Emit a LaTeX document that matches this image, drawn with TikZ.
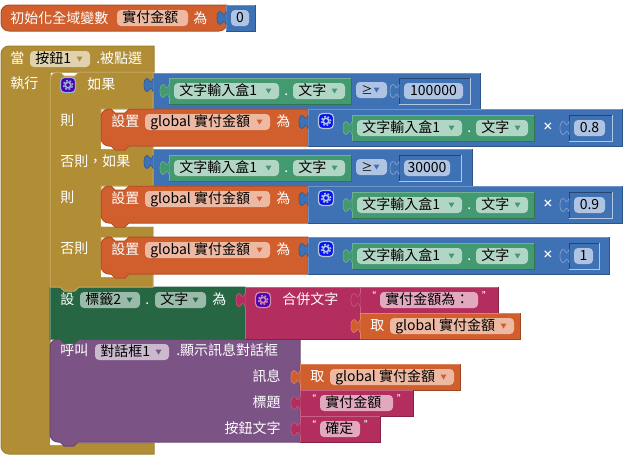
\documentclass[tikz,border=0pt]{standalone}
\usepackage{fontspec}
\setmainfont{Noto Sans CJK TC}
\definecolor{cOr}{HTML}{D05F2D}
\definecolor{cBl}{HTML}{3F71B5}
\definecolor{cGo}{HTML}{B18E35}
\definecolor{cGr}{HTML}{439970}
\definecolor{cDg}{HTML}{266643}
\definecolor{cPk}{HTML}{B32D5E}
\definecolor{cPu}{HTML}{7C5385}
\definecolor{fOr}{HTML}{EDB9A3}
\definecolor{fBl}{HTML}{AFC4E2}
\definecolor{fGr}{HTML}{B2D6C5}
\definecolor{fDg}{HTML}{9ABBA9}
\definecolor{fPk}{HTML}{E2A9BE}
\definecolor{fPu}{HTML}{CBBACE}
\definecolor{fGo}{HTML}{E0D2AE}
\newcount\nodeno
\tikzset{
  autoname/.code={\global\advance\nodeno by 1\relax\tikzset{name=n\the\nodeno}},
  txt/.style={autoname,inner sep=0pt,font=\fontsize{10.5pt}{12pt}\selectfont,text height=8.5pt,text depth=1.5pt},
  wlab/.style={txt,text=white},
  hairline/.style={line width=0.75pt},
}
% label: x y text
\newcommand\lab[3]{\node[wlab,anchor=west] at (#1,#2) {#3};}
\newcommand\labr[3]{\node[wlab,anchor=east] at (#1,#2) {#3};}
% field: x0 x1 yc fill arrowcolour text
\newcommand\fld[6]{\fill[#4,rounded corners=3pt] (#1,#3-8) rectangle (#2,#3+8);
  \node[txt,text=black,anchor=west] at (#1+5,#3) {#6};
  \fill[#5] (#2-13.5,#3-2.5) -- (#2-7.5,#3-2.5) -- (#2-10.5,#3+2.5) -- cycle;}
% field without arrow
\newcommand\fln[4]{\fill[#4,rounded corners=3pt] (#1,#3-8) rectangle (#2,#3+8);}
% tab: x ytop colour stroke
\newcommand\tabb[4]{\begin{scope}[shift={(#1,#2)}]
  \fill[#3] (0.5,0.5) -- (0,0.5) .. controls (0,3) and (-2,4) .. (-3,3.5) .. controls (-4,-0.5) and (-9,-1.5) .. (-9,7) .. controls (-9,15.5) and (-4,14.5) .. (-3,10.5) .. controls (-2,10) and (0,11) .. (0,13.5) -- (0.5,13.5) -- cycle;
  \draw[#4,line width=0.5pt] (0,0.5) .. controls (0,3) and (-2,4) .. (-3,3.5) .. controls (-4,-0.5) and (-9,-1.5) .. (-9,7) .. controls (-9,15.5) and (-4,14.5) .. (-3,10.5) .. controls (-2,10) and (0,11) .. (0,13.5);
  \end{scope}}
% rectangular block: x0 y0 x1 y1 colour
\newcommand\blk[5]{\fill[#5] (#1,#2) rectangle (#3,#4);
  \draw[#5!75!black,hairline] (#3,#2) -- (#3,#4) -- (#1,#4);
  \draw[#5!75!white,hairline] (#1,#4) -- (#1,#2) -- (#3,#2);}
% inset number block: x0 y0 x1 y1 colour
\newcommand\numb[5]{\fill[#5] (#1,#2) rectangle (#3,#4);
  \draw[#5!60!black,hairline] (#1,#4) -- (#1,#2) -- (#3,#2);
  \draw[white!60!#5,hairline] (#3,#2) -- (#3,#4) -- (#1,#4);}
% statement block: x0 y0 x1 y1 colour
\newcommand\stmt[5]{\path[fill=white] (#1,#4-8) -- (#1,#4+3) -- (#1+24,#4+3) -- (#1+24,#4) -- cycle;
  \filldraw[fill=#5,draw=#5!85!black,hairline] (#3,#2) -- (#1+28,#2) -- (#1+24,#2+4) -- (#1+14,#2+4) -- (#1+10,#2)
  [rounded corners=6pt] -- (#1,#2) -- (#1,#4) [sharp corners] -- (#1+10,#4) -- (#1+14,#4+4) -- (#1+24,#4+4) -- (#1+28,#4) -- (#3,#4) -- cycle;}
% gear icon: x0 y0 fill border
\newcommand\gearicon[4]{\begin{scope}[shift={(#1+8,#2+8)}]
  \filldraw[fill=#3,draw=#4,line width=0.9pt,rounded corners=3pt] (-7.5,-7.5) rectangle (7.5,7.5);
  \draw[#4,line width=1.2pt] (0,0) circle[radius=2.1pt];
  \draw[#4,line width=1.1pt,dash pattern=on 1.4pt off 1.35pt] (0,0) circle[radius=3.5pt];
  \end{scope}}
% comparison value row: y0 x1 xnum1 xfield1 number ytop
\newcommand\cmprow[6]{\blk{153}{#6}{#2}{#1+36}{cBl}
  \tabb{153}{#1+5}{cBl}{cBl!80!black}
  \blk{169}{#1+5}{351}{#1+31}{cGr}
  \tabb{169}{#1+11}{cGr}{cGr!80!white}
  \fld{174}{279}{#1+18}{fGr}{cGr}{文字輸入盒1}
  \lab{284}{#1+18}{.}
  \fld{293}{345}{#1+18}{fGr}{cGr}{文字}
  \fld{356}{387}{#1+17}{fBl}{cBl}{\fontsize{8.5pt}{10pt}\selectfont ≥}
  \numb{399}{#1+5}{#3}{#1+31}{cBl}
  \tabb{399}{#1+11}{cBl}{white!35!cBl}
  \fln{404}{#4}{#1+18}{fBl}
  \node[txt,text=black,anchor=center] at ({(404+#4)/2},#1+18) {#5};}
% set row: y0 x1 numx1 numfx1 number
\newcommand\setrow[5]{\stmt{101}{#1}{308}{#1+37}{cOr}
  \lab{111}{#1+13}{設置}
  \fld{145}{270}{#1+13}{fOr}{cOr}{global 實付金額}
  \lab{276}{#1+13}{為}
  \blk{308}{#1}{#2}{#1+37}{cBl}
  \tabb{308}{#1+6}{cBl}{cBl!80!black}
  \gearicon{318}{#1+4}{blue!85!cBl}{white!60!cBl}
  \blk{352}{#1+6}{534}{#1+32}{cGr}
  \tabb{352}{#1+12}{cGr}{cGr!80!white}
  \fld{357}{462}{#1+19}{fGr}{cGr}{文字輸入盒1}
  \lab{467}{#1+19}{.}
  \fld{476}{528}{#1+19}{fGr}{cGr}{文字}
  \node[autoname,inner sep=0pt,text=white,font=\fontsize{8pt}{8pt}\selectfont\bfseries,anchor=center] at (548,#1+18) {×};
  \numb{569}{#1+6}{#3}{#1+32}{cBl}
  \tabb{569}{#1+12}{cBl}{white!35!cBl}
  \fln{574}{#4}{#1+19}{fBl}
  \node[txt,text=black,anchor=center] at ({(574+#4)/2},#1+19) {#5};}
% text string block: x0 y0 x1 fieldx0 fieldx1 text
\newcommand\strblk[6]{\blk{#1}{#2}{#3}{#2+26}{cPk}
  \tabb{#1}{#2+6}{cPk}{cPk!80!white}
  \fln{#4}{#5}{#2+13}{fPk}
  \node[txt,text=black,anchor=west] at (#4+5,#2+13) {#6};
  \node[autoname,inner sep=0pt,text=white,font=\fontsize{6pt}{6pt}\selectfont\bfseries] at (#4-8,#2+8) {“};
  \node[autoname,inner sep=0pt,text=white,font=\fontsize{6pt}{6pt}\selectfont\bfseries] at (#5+8,#2+8) {”};}
% get block: x0 y0 x1 fieldx0
\newcommand\getblk[4]{\blk{#1}{#2}{#3}{#2+26}{cOr}
  \tabb{#1}{#2+6}{cOr}{cOr!80!white}
  \lab{#1+10}{#2+13}{取}
  \fld{#4}{#3-6}{#2+13}{fOr}{cOr}{global 實付金額}}
\begin{document}
\begin{tikzpicture}[x=0.75pt,y=-0.75pt]
\useasboundingbox (0,0) rectangle (628,464);
\fill[white] (0,0) rectangle (628,464);
% init global
\filldraw[fill=cOr,draw=cOr!85!black,hairline,rounded corners=6pt] (227,5) -- (1,5) -- (1,31) -- (227,31) [sharp corners] -- cycle;
\lab{10}{19}{初始化全域變數}
\fld{117}{188}{18}{fOr}{fOr}{實付金額}
\lab{193}{19}{為}
\blk{226}{5}{255}{31}{cBl}
\tabb{226}{11}{cBl}{cBl!80!black}
\fln{231}{249}{18}{fBl}
\node[txt,text=black,anchor=center] at (240,18) {0};
% event block
\filldraw[fill=cGo,draw=cGo!90!black,hairline,rounded corners=6pt] (154,72) [sharp corners] -- (154,46) [rounded corners=6pt] -- (1,46) -- (1,454) [sharp corners] -- (154,454) -- (154,443) -- (50,443) -- (50,72) -- cycle;
\lab{10}{59}{當}
\fld{30}{90}{59}{fGo}{cGo}{按鈕1}
\lab{96}{59}{.被點選}
\lab{10}{84}{執行}
% purple call block
\stmt{50}{339}{300}{442}{cPu}
\lab{60}{351}{呼叫}
\fld{95}{169}{352}{fPu}{cPu}{對話框1}
\lab{176}{351}{.顯示訊息對話框}
\labr{281}{377}{訊息}
\labr{281}{403}{標題}
\labr{281}{429}{按鈕文字}
% green set block
\filldraw[fill=cDg,draw=cDg,hairline] (50,287) -- (245,287) -- (245,339) -- (79,339) -- (75,343) -- (64,343) -- (60,339) -- (50,339) -- cycle;
\draw[cDg!75!white,hairline] (50,339) -- (50,287);
\lab{60}{300}{設}
\fld{80}{140}{300}{fDg}{cDg}{標籤2}
\lab{145}{300}{.}
\fld{155}{206}{300}{fDg}{cDg}{文字}
\lab{212}{300}{為}
% join block
\blk{245}{287}{360}{339}{cPk}
\tabb{245}{293}{cPk}{cPk!80!white}
\gearicon{255}{292}{violet!55!blue}{white!45!cPk}
\lab{282}{300}{合併文字}
\strblk{360}{287}{498}{380}{478}{實付金額為：}
\getblk{360}{313}{520}{390}
% call block values
\getblk{300}{364}{460}{330}
\strblk{300}{390}{413}{320}{393}{實付金額}
\strblk{300}{416}{380}{320}{360}{確定}
% if block
\filldraw[fill=cGo,draw=white!25!cGo,hairline] (153,72) -- (79,72) -- (75,76) -- (64,76) -- (60,72) [rounded corners=6pt] -- (50,72) [sharp corners] -- (50,287) -- (60,287) -- (64,291) -- (75,291) -- (79,287) -- (153,287) -- (153,273) -- (101,273) -- (101,237) -- (153,237) -- (153,227) -- (101,227) -- (101,186) -- (153,186) -- (153,146) -- (101,146) -- (101,109) -- (153,109) -- cycle;
\fill[cGo] (101,227) rectangle (153,237);
\gearicon{60}{77}{violet!60!blue}{white!45!cBl}
\lab{87}{85}{如果}
\lab{60}{121}{則}
\lab{60}{162}{否則，如果}
\lab{60}{198}{則}
\lab{60}{249}{否則}
% value rows
\cmprow{73}{480}{470}{463}{100000}{73}
\setrow{109}{622}{612}{605}{0.8}
\cmprow{150}{472}{461}{450}{30000}{149}
\setrow{186}{622}{612}{605}{0.9}
\setrow{237}{609}{599}{593}{1}
\end{tikzpicture}
\end{document}
